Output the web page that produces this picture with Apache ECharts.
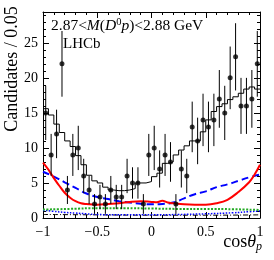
<!DOCTYPE html>
<html><head><meta charset="utf-8">
<script src="https://cdn.jsdelivr.net/npm/echarts@6/dist/echarts.min.js"></script>
<style>html,body{margin:0;padding:0;background:#fff}#c{width:274px;height:260px}</style>
</head><body><div id="c"></div>
<script>
// ---- data ----
const binCenters = [-0.975,-0.925,-0.875,-0.825,-0.775,-0.725,-0.675,-0.625,-0.575,-0.525,-0.475,-0.425,-0.375,-0.325,-0.275,-0.225,-0.175,-0.125,-0.075,-0.025,0.025,0.075,0.125,0.175,0.225,0.275,0.325,0.375,0.425,0.475,0.525,0.575,0.625,0.675,0.725,0.775,0.825,0.875,0.925,0.975];
const counts = [15,9,12,22,4,9,10,6,4,2,3,2,4,3,3,6,5,5,2,9,10,7,9,8,2,7,6,13,11,14,13,14,17,15,20,23,16,16,17,22];
const countErrs = [3.87,3,3.46,4.69,2,3,3.16,2.45,2,1.41,1.73,1.41,2,1.73,1.73,2.45,2.24,2.24,1.41,3,3.16,2.65,3,2.83,1.41,2.65,2.45,3.61,3.32,3.74,3.61,3.74,4.12,3.87,4.47,4.8,4,4,4.12,4.69];
const binEdges = [-1,-0.95,-0.9,-0.85,-0.8,-0.75,-0.7,-0.65,-0.6,-0.55,-0.5,-0.45,-0.4,-0.35,-0.3,-0.25,-0.2,-0.15,-0.1,-0.05,0,0.05,0.1,0.15,0.2,0.25,0.3,0.35,0.4,0.45,0.5,0.55,0.6,0.65,0.7,0.75,0.8,0.85,0.9,0.95,1];
const fitTotal = [15.6,14.7,13.4,12.2,11.0,10.2,8.9,7.6,6.1,5.3,5.0,4.4,4.0,3.9,3.9,4.0,4.2,5.0,5.0,5.2,5.9,6.4,7.8,8.0,9.0,9.7,10.3,11.0,11.0,12.3,14.0,15.2,15.9,16.3,16.9,17.3,17.8,18.4,18.7,18.4];
const redX = [-1,-0.95,-0.93,-0.9,-0.85,-0.8,-0.75,-0.7,-0.65,-0.6,-0.5,-0.4,-0.3,-0.2,-0.1,0,0.05,0.1,0.15,0.2,0.3,0.4,0.5,0.6,0.7,0.8,0.9,0.95,1];
const redY = [7.9,6.9,6.4,5.7,4.6,3.6,2.9,2.4,2.1,2.0,1.9,2.0,2.1,2.3,2.4,2.3,2.25,2.45,2.2,2.1,1.95,1.9,1.9,2.1,2.6,3.7,5.1,6.2,7.6];
const blueX = [-1,-0.9,-0.8,-0.7,-0.6,-0.5,-0.4,-0.3,-0.2,-0.1,0,0.1,0.2,0.3,0.4,0.5,0.6,0.7,0.8,0.9,1];
const blueY = [6.6,5.9,5.1,4.3,3.5,3.0,2.7,2.4,2.2,2.05,1.95,2.0,2.2,2.8,3.4,3.8,4.4,4.8,5.3,5.8,6.2];
const greenX = [-1,-0.75,-0.5,-0.25,0,0.25,0.5,0.75,1];
const greenY = [1.2,1.3,1.4,1.4,1.35,1.3,1.3,1.25,1.15];
const bdotX = [-1,-0.9,-0.8,-0.7,-0.6,-0.5,-0.25,0,0.25,0.5,0.75,0.9,1];
const bdotY = [1.1,0.95,0.8,0.7,0.6,0.5,0.45,0.45,0.5,0.6,0.75,0.9,1.0];
const kdashX = [-1,-0.5,0,0.5,1];
const kdashY = [0.5,0.45,0.4,0.4,0.45];
const xTicks = [-1,-0.5,0,0.5,1];
const yTicks = [0,5,10,15,20,25];

// ---- build ----
const zip = (a,b)=>a.map((v,i)=>[v,b[i]]);
const histData = binEdges.map((e,i)=>[e, fitTotal[Math.min(i, fitTotal.length-1)]]);
const serif = 'Liberation Serif';
const axisCommon = {
  axisLine:{show:true, onZero:false, lineStyle:{color:'#000', width:1}},
  axisTick:{show:true, inside:true, length:6, lineStyle:{color:'#000', width:1}},
  minorTick:{show:true, splitNumber:5, length:3, lineStyle:{color:'#000', width:1}},
  splitLine:{show:false}, minorSplitLine:{show:false}
};
const fmtX = v => { const t = xTicks.find(k=>Math.abs(k-v)<1e-9); return t===undefined ? '' : (t<0 ? '\u2212'+String(-t) : String(t)); };
const chart = echarts.init(document.getElementById('c'), null, {renderer:'canvas'});
chart.setOption({
  animation:false,
  backgroundColor:'#fff',
  grid:{left:43, right:14, top:12, bottom:42},
  xAxis:[
    Object.assign({type:'value', min:-1, max:1, interval:0.5, position:'bottom',
      axisLabel:{color:'#000', fontFamily:serif, fontSize:14, margin:7, formatter:fmtX}}, axisCommon),
    Object.assign({type:'value', min:-1, max:1, interval:0.5, position:'top', axisLabel:{show:false}}, axisCommon)
  ],
  yAxis:[
    Object.assign({type:'value', min:0, max:29.4, interval:5, position:'left',
      axisLabel:{color:'#000', fontFamily:serif, fontSize:14, margin:5,
        formatter: v => yTicks.includes(v) ? String(v) : ''}}, axisCommon),
    Object.assign({type:'value', min:0, max:29.4, interval:5, position:'right', axisLabel:{show:false}}, axisCommon)
  ],
  series:[
    {type:'line', data:zip(kdashX,kdashY), showSymbol:false, smooth:true, lineStyle:{color:'#000', width:1, type:[5,2,1,2]}, z:2},
    {type:'line', data:zip(bdotX,bdotY), showSymbol:false, smooth:true, lineStyle:{color:'#0000ff', width:1.5, type:[1.5,1.5]}, z:2},
    {type:'line', data:zip(greenX,greenY), showSymbol:false, smooth:true, lineStyle:{color:'#22aa22', width:2, type:[2,1.5]}, z:2},
    {type:'line', data:zip(blueX,blueY), showSymbol:false, smooth:true, lineStyle:{color:'#0000ff', width:2, type:[7,4]}, z:3},
    {type:'line', data:zip(redX,redY), showSymbol:false, smooth:0.4, lineStyle:{color:'#ff0000', width:2}, z:3},
    {type:'line', data:histData, step:'end', showSymbol:false, lineStyle:{color:'#000', width:1}, z:4},
    {type:'custom', data:binCenters.map((x,i)=>[x, counts[i]-countErrs[i], counts[i]+countErrs[i]]), z:5,
      renderItem:(params, api)=>{
        const p1 = api.coord([api.value(0), api.value(1)]);
        const p2 = api.coord([api.value(0), api.value(2)]);
        return {type:'line', shape:{x1:p1[0], y1:p1[1], x2:p2[0], y2:p2[1]}, style:{stroke:'#000', lineWidth:1}};
      }},
    {type:'scatter', data:zip(binCenters,counts), symbol:'circle', symbolSize:5, itemStyle:{color:'#000'}, z:6}
  ],
  graphic:[
    {type:'text', left:51, top:17, z:10, style:{
      text:'{n|2.87<}{i|M}{n|(}{i|D}{s|0}{i|p}{n|)<2.88 GeV}',
      rich:{ n:{fontFamily:serif, fontSize:15.5, fill:'#000', lineHeight:18},
             i:{fontFamily:serif, fontSize:15.5, fontStyle:'italic', fill:'#000', lineHeight:18},
             s:{fontFamily:serif, fontSize:10.5, fill:'#000', verticalAlign:'top', lineHeight:18} }}},
    {type:'text', left:63, top:37, z:10, style:{text:'LHCb', fontFamily:serif, fontSize:15, fill:'#000'}},
    {type:'text', x:12, y:69, rotation:Math.PI/2, z:10, style:{text:'Candidates / 0.05', fontFamily:serif, fontSize:18, fill:'#000', align:'center', verticalAlign:'middle'}},
    {type:'text', right:12, top:233, z:10, style:{
      text:'{n|cos}{i|θ}{sub|p}',
      rich:{ n:{fontFamily:serif, fontSize:18, fill:'#000', lineHeight:22},
             i:{fontFamily:serif, fontSize:18, fontStyle:'italic', fill:'#000', lineHeight:22},
             sub:{fontFamily:serif, fontSize:12, fontStyle:'italic', fill:'#000', verticalAlign:'bottom', lineHeight:22, padding:[6,0,0,0]} }}}
  ]
});
</script></body></html>
